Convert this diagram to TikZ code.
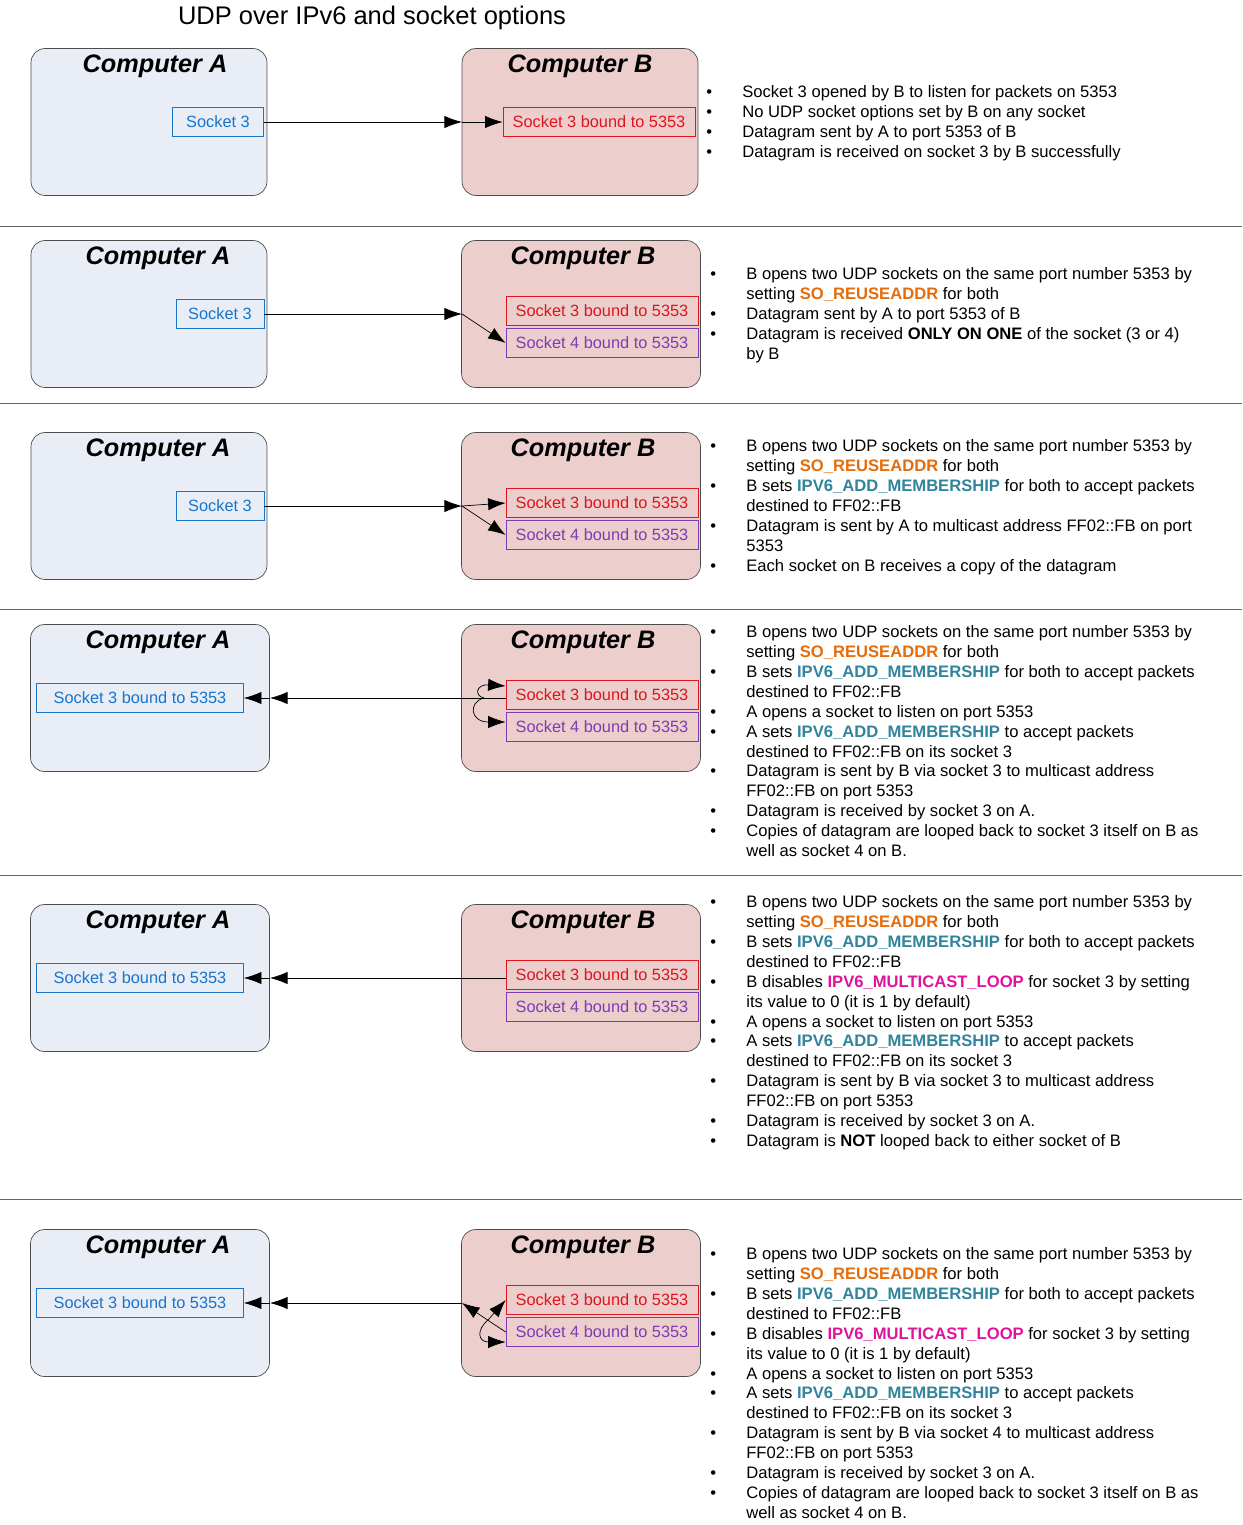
\documentclass[tikz,border=0pt]{standalone}
\usepackage{fontspec}
\setmainfont{Liberation Sans}
\usetikzlibrary{arrows.meta,positioning}
\definecolor{boxA}{HTML}{E9EDF5}
\definecolor{boxB}{HTML}{ECCFCC}
\definecolor{sockA}{HTML}{1874CD}
\definecolor{sockR}{HTML}{E0141E}
\definecolor{sockP}{HTML}{7E3BB5}
\definecolor{optO}{HTML}{E46C0A}
\definecolor{optT}{HTML}{31849B}
\definecolor{optM}{HTML}{E0149B}
\newcommand{\optR}{\textcolor{optO}{\textbf{SO\_REUSEADDR}}}
\newcommand{\optA}{\textcolor{optT}{\textbf{IPV6\_ADD\_MEMBERSHIP}}}
\newcommand{\optL}{\textcolor{optM}{\textbf{IPV6\_MULTICAST\_LOOP}}}
\newcommand{\bul}{\makebox[0.72cm][l]{\textbullet}}
\newcommand{\cnt}{\hspace*{0.72cm}}
\tikzset{
  comp/.style={draw=black!70,rounded corners=8pt,minimum width=#1},
  compA/.style={comp=4.72cm,fill=boxA,minimum height=2.94cm},
  compB/.style={comp=4.72cm,fill=boxB,minimum height=2.94cm},
  cname/.style={font=\Large\bfseries\itshape\rmfamily},
  sock/.style={draw=#1,text=#1,fill=none,font=\fontsize{9.3}{11}\selectfont,inner sep=0pt,minimum height=0.58cm},
  note/.style={anchor=north west,align=left,inner sep=0pt,font=\fontsize{9.45}{11.35}\selectfont},
  sep/.style={draw=black!60},
  flow/.style={-{Latex[length=10pt,width=7pt]}},
}
\begin{document}
\begin{tikzpicture}[x=0.02cm,y=-0.02cm]
\useasboundingbox (0,0) rectangle (1242,1525);
\node[font=\fontsize{14.5}{17}\selectfont] (title) at (372,18) {UDP over IPv6 and socket options};
% separators
\foreach \y in {226,403,609,875,1199}
  \draw[sep] (0,\y) -- (1242,\y);

% row 1
\node[compA,minimum width=4.72cm] (a1) at (149,122) {};
\node[compB] (b1) at (580,122) {};
\node[cname] at (155,66) {Computer A};
\node[cname] at (580,66) {Computer B};
\node[sock=sockA,minimum width=1.82cm] (sa1) at (218,122) {Socket 3};
\node[sock=sockR,minimum width=3.84cm] (s31) at (599,122) {Socket 3 bound to 5353};
\coordinate (e1) at (462,122);
\draw[flow] (sa1) -- (e1);
\draw[flow] (e1) -- (s31);
\node[note] (n1) at (706,85) {%
\bul Socket 3 opened by B to listen for packets on 5353\\
\bul No UDP socket options set by B on any socket\\
\bul Datagram sent by A to port 5353 of B\\
\bul Datagram is received on socket 3 by B successfully};

% row 2
\node[compA] (a2) at (149,314) {};
\node[compB,minimum width=4.78cm] (b2) at (581,314) {};
\node[cname] at (158,258) {Computer A};
\node[cname] at (583,258) {Computer B};
\node[sock=sockA,minimum width=1.76cm] (sa2) at (220,314) {Socket 3};
\node[sock=sockR,minimum width=3.84cm] (s32) at (602,311) {Socket 3 bound to 5353};
\node[sock=sockP,minimum width=3.84cm] (s42) at (602,343) {Socket 4 bound to 5353};
\coordinate (e2) at (462,314);
\draw[flow] (sa2) -- (e2);
\draw[flow] (e2) -- (s42.west);
\node[note] (n2) at (710,267) {%
\bul B opens two UDP sockets on the same port number 5353 by\\
\cnt setting \optR{} for both\\
\bul Datagram sent by A to port 5353 of B\\
\bul Datagram is received \textbf{ONLY ON ONE} of the socket (3 or 4)\\
\cnt by B};

% row 3
\node[compA] (a3) at (149,506) {};
\node[compB,minimum width=4.78cm] (b3) at (581,506) {};
\node[cname] at (158,450) {Computer A};
\node[cname] at (583,450) {Computer B};
\node[sock=sockA,minimum width=1.76cm] (sa3) at (220,506) {Socket 3};
\node[sock=sockR,minimum width=3.84cm] (s33) at (602,503) {Socket 3 bound to 5353};
\node[sock=sockP,minimum width=3.84cm] (s43) at (602,535) {Socket 4 bound to 5353};
\coordinate (e3) at (462,506);
\draw[flow] (sa3) -- (e3);
\draw[flow] (e3) -- (s33.west);
\draw[flow] (e3) -- (s43.west);
\node[note] (n3) at (710,439) {%
\bul B opens two UDP sockets on the same port number 5353 by\\
\cnt setting \optR{} for both\\
\bul B sets \optA{} for both to accept packets\\
\cnt destined to FF02::FB\\
\bul Datagram is sent by A to multicast address FF02::FB on port\\
\cnt 5353\\
\bul Each socket on B receives a copy of the datagram};

% row 4
\node[compA,minimum width=4.78cm] (a4) at (150,698) {};
\node[compB,minimum width=4.78cm] (b4) at (581,698) {};
\node[cname] at (158,642) {Computer A};
\node[cname] at (583,642) {Computer B};
\node[sock=sockA,minimum width=4.14cm] (sa4) at (140,698) {Socket 3 bound to 5353};
\node[sock=sockR,minimum width=3.84cm] (s34) at (602,695) {Socket 3 bound to 5353};
\node[sock=sockP,minimum width=3.84cm] (s44) at (602,727) {Socket 4 bound to 5353};
\coordinate (e4) at (270,698);
\draw[flow] (s34.west |- sa4) -- (e4);
\draw[flow] (e4) -- (sa4);
\draw[flow] (484,698) .. controls (474,696) and (476,684) .. (s34.west |- 0,686);
\draw[flow] (484,698) .. controls (468,702) and (470,722) .. (s44.west |- 0,722);
\node[note] (n4) at (710,625) {%
\bul B opens two UDP sockets on the same port number 5353 by\\
\cnt setting \optR{} for both\\
\bul B sets \optA{} for both to accept packets\\
\cnt destined to FF02::FB\\
\bul A opens a socket to listen on port 5353\\
\bul A sets \optA{} to accept packets\\
\cnt destined to FF02::FB on its socket 3\\
\bul Datagram is sent by B via socket 3 to multicast address\\
\cnt FF02::FB on port 5353\\
\bul Datagram is received by socket 3 on A.\\
\bul Copies of datagram are looped back to socket 3 itself on B as\\
\cnt well as socket 4 on B.};

% row 5
\node[compA,minimum width=4.78cm] (a5) at (150,978) {};
\node[compB,minimum width=4.78cm] (b5) at (581,978) {};
\node[cname] at (158,922) {Computer A};
\node[cname] at (583,922) {Computer B};
\node[sock=sockA,minimum width=4.14cm] (sa5) at (140,978) {Socket 3 bound to 5353};
\node[sock=sockR,minimum width=3.84cm] (s35) at (602,975) {Socket 3 bound to 5353};
\node[sock=sockP,minimum width=3.84cm] (s45) at (602,1007) {Socket 4 bound to 5353};
\coordinate (e5) at (270,978);
\draw[flow] (s35.west |- sa5) -- (e5);
\draw[flow] (e5) -- (sa5);
\node[note] (n5) at (710,895) {%
\bul B opens two UDP sockets on the same port number 5353 by\\
\cnt setting \optR{} for both\\
\bul B sets \optA{} for both to accept packets\\
\cnt destined to FF02::FB\\
\bul B disables \optL{} for socket 3 by setting\\
\cnt its value to 0 (it is 1 by default)\\
\bul A opens a socket to listen on port 5353\\
\bul A sets \optA{} to accept packets\\
\cnt destined to FF02::FB on its socket 3\\
\bul Datagram is sent by B via socket 3 to multicast address\\
\cnt FF02::FB on port 5353\\
\bul Datagram is received by socket 3 on A.\\
\bul Datagram is \textbf{NOT} looped back to either socket of B};

% row 6
\node[compA,minimum width=4.78cm] (a6) at (150,1303) {};
\node[compB,minimum width=4.78cm] (b6) at (581,1303) {};
\node[cname] at (158,1247) {Computer A};
\node[cname] at (583,1247) {Computer B};
\node[sock=sockA,minimum width=4.14cm] (sa6) at (140,1303) {Socket 3 bound to 5353};
\node[sock=sockR,minimum width=3.84cm] (s36) at (602,1300) {Socket 3 bound to 5353};
\node[sock=sockP,minimum width=3.84cm] (s46) at (602,1332) {Socket 4 bound to 5353};
\coordinate (e6) at (462,1303);
\coordinate (f6) at (270,1303);
\coordinate (m6) at (488,1320);
\draw[flow] (s46.west) -- (e6);
\draw[flow] (e6) -- (f6);
\draw[flow] (f6) -- (sa6);
\draw[flow] (m6) -- (s36.west);
\draw[flow] (m6) .. controls (476,1330) and (478,1342) .. (s46.west |- 0,1342);
\node[note] (n6) at (710,1247) {%
\bul B opens two UDP sockets on the same port number 5353 by\\
\cnt setting \optR{} for both\\
\bul B sets \optA{} for both to accept packets\\
\cnt destined to FF02::FB\\
\bul B disables \optL{} for socket 3 by setting\\
\cnt its value to 0 (it is 1 by default)\\
\bul A opens a socket to listen on port 5353\\
\bul A sets \optA{} to accept packets\\
\cnt destined to FF02::FB on its socket 3\\
\bul Datagram is sent by B via socket 4 to multicast address\\
\cnt FF02::FB on port 5353\\
\bul Datagram is received by socket 3 on A.\\
\bul Copies of datagram are looped back to socket 3 itself on B as\\
\cnt well as socket 4 on B.};
\end{tikzpicture}
\end{document}
